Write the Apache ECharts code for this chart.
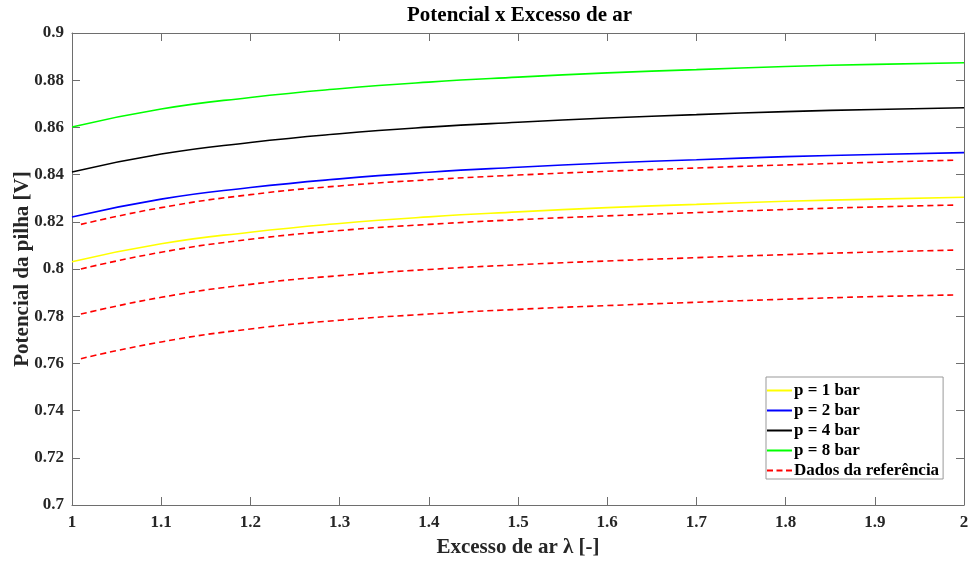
<!DOCTYPE html>
<html>
<head>
<meta charset="utf-8">
<script src="https://cdn.jsdelivr.net/npm/echarts@6/dist/echarts.min.js"></script>
<style>
    html, body { margin: 0; padding: 0; background: #fff; }
    #chart { width: 969px; height: 561px; }
</style>
</head>
<body>
<div id="chart"></div>
<script>
// excesso de ar (lambda)
const lambdaModel = [1.0, 1.1, 1.2, 1.3, 1.4, 1.5, 1.6, 1.7, 1.8, 1.9, 2.0];
const p1bar = [0.8031, 0.8107, 0.8156, 0.8193, 0.8221, 0.8242, 0.8260, 0.8274, 0.8287, 0.8296, 0.8304];
const p2bar = [0.8220, 0.8296, 0.8345, 0.8382, 0.8410, 0.8431, 0.8449, 0.8463, 0.8476, 0.8485, 0.8493];
const p4bar = [0.8411, 0.8487, 0.8536, 0.8573, 0.8601, 0.8622, 0.8640, 0.8654, 0.8667, 0.8676, 0.8683];
const p8bar = [0.8602, 0.8678, 0.8727, 0.8764, 0.8792, 0.8813, 0.8831, 0.8845, 0.8858, 0.8867, 0.8874];

// dados da referencia
const lambdaRef = [1.01, 1.1, 1.2, 1.3, 1.4, 1.5, 1.6, 1.7, 1.8, 1.9, 1.99];
const ref1 = [0.8189, 0.8260, 0.8315, 0.8352, 0.8378, 0.8398, 0.8414, 0.8428, 0.8441, 0.8452, 0.8461];
const ref2 = [0.8000, 0.8071, 0.8126, 0.8163, 0.8189, 0.8209, 0.8225, 0.8239, 0.8252, 0.8263, 0.8271];
const ref3 = [0.7809, 0.7880, 0.7935, 0.7972, 0.7998, 0.8018, 0.8034, 0.8048, 0.8061, 0.8072, 0.8080];
const ref4 = [0.7620, 0.7691, 0.7746, 0.7783, 0.7809, 0.7829, 0.7845, 0.7859, 0.7872, 0.7883, 0.7890];

const xTicks = { min: 1, max: 2, interval: 0.1 };
const yTicks = { min: 0.7, max: 0.9, interval: 0.02 };

const refName = 'Dados da referência';
const font = 'Liberation Serif';
const axisGray = '#6e6e6e';

// icones da legenda (so linha, sem simbolo)
const solidIcon = 'path://M0,0 L25,0 L25,2 L0,2 Z';
const dashIcon = 'path://M0,0 L6,0 L6,2 L0,2 Z M9.5,0 L15.5,0 L15.5,2 L9.5,2 Z M19,0 L25,0 L25,2 L19,2 Z';

function pairs(xs, ys) {
    return xs.map((x, i) => [x, ys[i]]);
}

function modelSeries(name, ys, color) {
    return {
        name: name,
        type: 'line',
        data: pairs(lambdaModel, ys),
        symbol: 'none',
        smooth: 0.5,
        lineStyle: { color: color, width: 1.6 },
        itemStyle: { color: color }
    };
}

function refSeries(ys) {
    return {
        name: refName,
        type: 'line',
        data: pairs(lambdaRef, ys),
        symbol: 'none',
        smooth: 0.5,
        lineStyle: { color: '#ff0000', width: 1.6, type: [6, 4] },
        itemStyle: { color: '#ff0000' }
    };
}

const chart = echarts.init(document.getElementById('chart'));

const hiddenAxis = {
    axisLine: { show: true, lineStyle: { color: axisGray, width: 1 } },
    axisTick: { show: true, inside: true, length: 8, lineStyle: { color: axisGray } },
    axisLabel: { show: false },
    splitLine: { show: false }
};

chart.setOption({
    animation: false,
    title: {
        text: 'Potencial x Excesso de ar',
        left: 402,
        top: 0,
        textStyle: { fontFamily: font, fontWeight: 'bold', fontSize: 21, color: '#000' }
    },
    grid: { left: 72, right: 5, top: 33, bottom: 56, outerBoundsMode: 'none' },
    legend: {
        data: [
            { name: 'p = 1 bar', icon: solidIcon },
            { name: 'p = 2 bar', icon: solidIcon },
            { name: 'p = 4 bar', icon: solidIcon },
            { name: 'p = 8 bar', icon: solidIcon },
            { name: refName, icon: dashIcon }
        ],
        orient: 'vertical',
        left: 766,
        top: 377,
        itemWidth: 25,
        itemHeight: 2,
        itemGap: 3,
        padding: [5, 4, 0, 1],
        borderColor: '#999',
        borderWidth: 1,
        backgroundColor: '#fff',
        textStyle: { fontFamily: font, fontWeight: 'bold', fontSize: 17, color: '#000', padding: [0, 0, 0, -3] }
    },
    xAxis: [{
        type: 'value',
        min: xTicks.min,
        max: xTicks.max,
        interval: xTicks.interval,
        name: 'Excesso de ar λ [-]',
        nameLocation: 'middle',
        nameGap: 32,
        nameMoveOverlap: false,
        nameTextStyle: { fontFamily: font, fontWeight: 'bold', fontSize: 21, color: '#262626' },
        axisLine: { show: true, lineStyle: { color: axisGray, width: 1 } },
        axisTick: { show: true, inside: true, length: 8, lineStyle: { color: axisGray } },
        axisLabel: { margin: 9, fontFamily: font, fontWeight: 'bold', fontSize: 17, color: '#262626' },
        splitLine: { show: false }
    }, Object.assign({
        type: 'value',
        position: 'top',
        min: xTicks.min,
        max: xTicks.max,
        interval: xTicks.interval
    }, hiddenAxis)],
    yAxis: [{
        type: 'value',
        min: yTicks.min,
        max: yTicks.max,
        interval: yTicks.interval,
        name: 'Potencial da pilha [V]',
        nameLocation: 'middle',
        nameGap: 39,
        nameMoveOverlap: false,
        nameTextStyle: { fontFamily: font, fontWeight: 'bold', fontSize: 21, color: '#262626' },
        axisLine: { show: true, lineStyle: { color: axisGray, width: 1 } },
        axisTick: { show: true, inside: true, length: 8, lineStyle: { color: axisGray } },
        axisLabel: { margin: 8, fontFamily: font, fontWeight: 'bold', fontSize: 17, color: '#262626' },
        splitLine: { show: false }
    }, Object.assign({
        type: 'value',
        position: 'right',
        min: yTicks.min,
        max: yTicks.max,
        interval: yTicks.interval
    }, hiddenAxis)],
    series: [
        modelSeries('p = 1 bar', p1bar, '#ffff00'),
        modelSeries('p = 2 bar', p2bar, '#0000ff'),
        modelSeries('p = 4 bar', p4bar, '#000000'),
        modelSeries('p = 8 bar', p8bar, '#00ff00'),
        refSeries(ref1),
        refSeries(ref2),
        refSeries(ref3),
        refSeries(ref4)
    ]
});
</script>
</body>
</html>
